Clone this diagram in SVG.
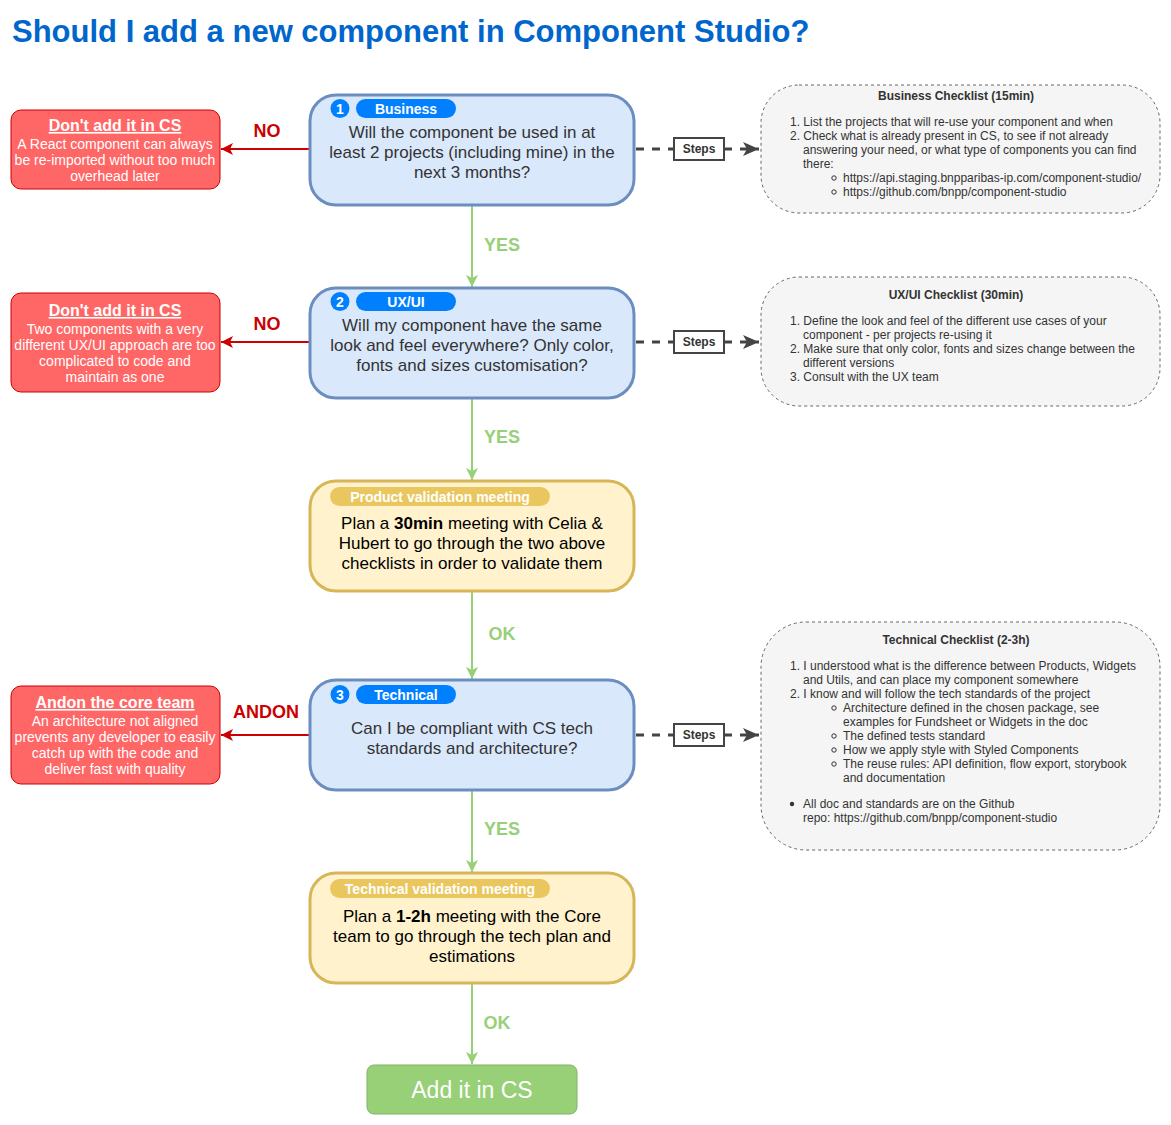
<svg xmlns="http://www.w3.org/2000/svg" width="1171" height="1125" viewBox="0 0 1171 1125">
<defs>
<style>
text{font-family:"Liberation Sans",Arial,sans-serif}
.q{fill:#DAE8FC;stroke:#6C8EBF;stroke-width:3}
.m{fill:#FFF2CC;stroke:#D6B656;stroke-width:3}
.r{fill:#FF6666;stroke:#CC0000;stroke-width:1}
.c{fill:#F5F5F5;stroke:#666;stroke-width:1;stroke-dasharray:3 3}
.qt{font-size:17px;fill:#333;text-anchor:middle}
.mt{font-size:17px;fill:#000;text-anchor:middle}
.rt{font-size:14px;fill:#fff;text-anchor:middle}
.rh{font-size:16px;font-weight:bold;fill:#fff;text-anchor:middle;text-decoration:underline}
.badge{fill:#007FFF}
.bt{font-size:14px;font-weight:bold;fill:#fff;text-anchor:middle}
.pill{fill:#EAC75E}
.ct{font-size:12px;fill:#333}
.ch{font-size:12px;font-weight:bold;fill:#333;text-anchor:middle}
.lbl-no{font-size:18px;font-weight:bold;fill:#CC0000;text-anchor:middle}
.lbl-yes{font-size:18px;font-weight:bold;fill:#97D077;text-anchor:middle}
.g{stroke:#97D077;stroke-width:2;fill:none}
.red{stroke:#CC0000;stroke-width:2;fill:none}
.dash{stroke:#444;stroke-width:3;fill:none;stroke-dasharray:8 8}
.steps{fill:#fff;stroke:#444;stroke-width:2}
.st{font-size:12px;font-weight:bold;fill:#333;text-anchor:middle}
</style>
<marker id="ag" markerUnits="userSpaceOnUse" markerWidth="14" markerHeight="14" viewBox="0 0 14 14" refX="13" refY="7" orient="auto"><path d="M1,1 L13,7 L1,13 L4,7 Z" fill="#97D077"/></marker>
<marker id="ar" markerUnits="userSpaceOnUse" markerWidth="14" markerHeight="14" viewBox="0 0 14 14" refX="13" refY="7" orient="auto"><path d="M1,1 L13,7 L1,13 L4,7 Z" fill="#CC0000"/></marker>
<marker id="ak" markerUnits="userSpaceOnUse" markerWidth="18" markerHeight="16" viewBox="0 0 18 16" refX="17" refY="8" orient="auto"><path d="M1,1 L17,8 L1,15 L5,8 Z" fill="#444"/></marker>
</defs>
<rect width="1171" height="1125" fill="#fff"/>
<text x="12" y="42" font-size="31" font-weight="bold" fill="#0066CC">Should I add a new component in Component Studio?</text>

<g id="connectors">
<line class="g" x1="472" y1="206" x2="472" y2="287" marker-end="url(#ag)"/>
<text class="lbl-yes" x="502" y="251">YES</text>
<line class="g" x1="472" y1="398" x2="472" y2="480" marker-end="url(#ag)"/>
<text class="lbl-yes" x="502" y="443">YES</text>
<line class="g" x1="472" y1="591" x2="472" y2="679" marker-end="url(#ag)"/>
<text class="lbl-yes" x="502" y="640">OK</text>
<line class="g" x1="472" y1="790" x2="472" y2="872" marker-end="url(#ag)"/>
<text class="lbl-yes" x="502" y="835">YES</text>
<line class="g" x1="472" y1="983" x2="472" y2="1064" marker-end="url(#ag)"/>
<text class="lbl-yes" x="497" y="1029">OK</text>
<line class="red" x1="309" y1="149" x2="221" y2="149" marker-end="url(#ar)"/>
<text class="lbl-no" x="267" y="137">NO</text>
<line class="red" x1="309" y1="342" x2="221" y2="342" marker-end="url(#ar)"/>
<text class="lbl-no" x="267" y="330">NO</text>
<line class="red" x1="309" y1="735" x2="221" y2="735" marker-end="url(#ar)"/>
<text class="lbl-no" x="266" y="718">ANDON</text>
<line class="dash" x1="636" y1="149" x2="674" y2="149"/>
<line class="dash" x1="724" y1="149" x2="759" y2="149" stroke-dasharray="12 6" marker-end="url(#ak)"/>
<line class="dash" x1="636" y1="342" x2="674" y2="342"/>
<line class="dash" x1="724" y1="342" x2="759" y2="342" stroke-dasharray="12 6" marker-end="url(#ak)"/>
<line class="dash" x1="636" y1="735" x2="674" y2="735"/>
<line class="dash" x1="724" y1="735" x2="759" y2="735" stroke-dasharray="12 6" marker-end="url(#ak)"/>
<rect class="steps" x="674" y="138" width="50" height="22"/>
<text class="st" x="699" y="153">Steps</text>
<rect class="steps" x="674" y="331" width="50" height="22"/>
<text class="st" x="699" y="346">Steps</text>
<rect class="steps" x="674" y="724" width="50" height="22"/>
<text class="st" x="699" y="739">Steps</text>
</g>

<g id="q1">
<rect class="q" x="310" y="95" width="324" height="110" rx="26"/>
<circle class="badge" cx="340" cy="108.5" r="9.5"/>
<text class="bt" x="340" y="113.5">1</text>
<rect class="badge" x="356" y="99" width="100" height="19" rx="9.5"/>
<text class="bt" x="406" y="113.5">Business</text>
<text class="qt" x="472" y="138">Will the component be used in at</text>
<text class="qt" x="472" y="158">least 2 projects (including mine) in the</text>
<text class="qt" x="472" y="178">next 3 months?</text>
</g>

<g id="q2">
<rect class="q" x="310" y="288" width="324" height="110" rx="26"/>
<circle class="badge" cx="340" cy="301.5" r="9.5"/>
<text class="bt" x="340" y="306.5">2</text>
<rect class="badge" x="356" y="292" width="100" height="19" rx="9.5"/>
<text class="bt" x="406" y="306.5">UX/UI</text>
<text class="qt" x="472" y="331">Will my component have the same</text>
<text class="qt" x="472" y="351">look and feel everywhere? Only color,</text>
<text class="qt" x="472" y="371">fonts and sizes customisation?</text>
</g>

<g id="m1">
<rect class="m" x="310" y="481" width="324" height="110" rx="26"/>
<rect class="pill" x="330" y="487" width="220" height="19" rx="9.5"/>
<text class="bt" x="440" y="501.5">Product validation meeting</text>
<text class="mt" x="472" y="529">Plan a <tspan font-weight="bold">30min</tspan> meeting with Celia &amp;</text>
<text class="mt" x="472" y="549">Hubert to go through the two above</text>
<text class="mt" x="472" y="569">checklists in order to validate them</text>
</g>

<g id="q3">
<rect class="q" x="310" y="680" width="324" height="110" rx="26"/>
<circle class="badge" cx="340" cy="694.5" r="9.5"/>
<text class="bt" x="340" y="699.5">3</text>
<rect class="badge" x="356" y="685" width="100" height="19" rx="9.5"/>
<text class="bt" x="406" y="699.5">Technical</text>
<text class="qt" x="472" y="734">Can I be compliant with CS tech</text>
<text class="qt" x="472" y="754">standards and architecture?</text>
</g>

<g id="m2">
<rect class="m" x="310" y="873" width="324" height="110" rx="26"/>
<rect class="pill" x="330" y="879" width="220" height="19" rx="9.5"/>
<text class="bt" x="440" y="893.5">Technical validation meeting</text>
<text class="mt" x="472" y="922">Plan a <tspan font-weight="bold">1-2h</tspan> meeting with the Core</text>
<text class="mt" x="472" y="942">team to go through the tech plan and</text>
<text class="mt" x="472" y="962">estimations</text>
</g>

<g id="done">
<rect x="367" y="1065" width="210" height="49" rx="7" fill="#97D077" stroke="#82B366" stroke-width="1"/>
<text x="472" y="1098" font-size="23" fill="#fff" text-anchor="middle">Add it in CS</text>
</g>

<g id="r1">
<rect class="r" x="11" y="110" width="209" height="79" rx="10"/>
<text class="rh" x="115" y="131">Don't add it in CS</text>
<text class="rt" x="115" y="149">A React component can always</text>
<text class="rt" x="115" y="165">be re-imported without too much</text>
<text class="rt" x="115" y="181">overhead later</text>
</g>

<g id="r2">
<rect class="r" x="11" y="293" width="209" height="99" rx="10"/>
<text class="rh" x="115" y="316">Don't add it in CS</text>
<text class="rt" x="115" y="334">Two components with a very</text>
<text class="rt" x="115" y="350">different UX/UI approach are too</text>
<text class="rt" x="115" y="366">complicated to code and</text>
<text class="rt" x="115" y="382">maintain as one</text>
</g>

<g id="r3">
<rect class="r" x="11" y="686" width="209" height="98" rx="10"/>
<text class="rh" x="115" y="708">Andon the core team</text>
<text class="rt" x="115" y="726">An architecture not aligned</text>
<text class="rt" x="115" y="742">prevents any developer to easily</text>
<text class="rt" x="115" y="758">catch up with the code and</text>
<text class="rt" x="115" y="774">deliver fast with quality</text>
</g>

<g id="c1">
<rect class="c" x="761" y="85" width="399" height="128" rx="38"/>
<text class="ch" x="956" y="100">Business Checklist (15min)</text>
<text class="ct" x="790" y="126">1. List the projects that will re-use your component and when</text>
<text class="ct" x="790" y="140">2. Check what is already present in CS, to see if not already</text>
<text class="ct" x="803" y="154">answering your need, or what type of components you can find</text>
<text class="ct" x="803" y="168">there:</text>
<circle cx="834" cy="178" r="2.2" fill="none" stroke="#333"/>
<text class="ct" x="843" y="182">https://api.staging.bnpparibas-ip.com/component-studio/</text>
<circle cx="834" cy="192" r="2.2" fill="none" stroke="#333"/>
<text class="ct" x="843" y="196">https://github.com/bnpp/component-studio</text>
</g>

<g id="c2">
<rect class="c" x="761" y="277" width="399" height="129" rx="38"/>
<text class="ch" x="956" y="299">UX/UI Checklist (30min)</text>
<text class="ct" x="790" y="325">1. Define the look and feel of the different use cases of your</text>
<text class="ct" x="803" y="339">component - per projects re-using it</text>
<text class="ct" x="790" y="353">2. Make sure that only color, fonts and sizes change between the</text>
<text class="ct" x="803" y="367">different versions</text>
<text class="ct" x="790" y="381">3. Consult with the UX team</text>
</g>

<g id="c3">
<rect class="c" x="761" y="622" width="399" height="228" rx="45"/>
<text class="ch" x="956" y="644">Technical Checklist (2-3h)</text>
<text class="ct" x="790" y="670">1. I understood what is the difference between Products, Widgets</text>
<text class="ct" x="803" y="684">and Utils, and can place my component somewhere</text>
<text class="ct" x="790" y="698">2. I know and will follow the tech standards of the project</text>
<circle cx="834" cy="708" r="2.2" fill="none" stroke="#333"/>
<text class="ct" x="843" y="712">Architecture defined in the chosen package, see</text>
<text class="ct" x="843" y="726">examples for Fundsheet or Widgets in the doc</text>
<circle cx="834" cy="736" r="2.2" fill="none" stroke="#333"/>
<text class="ct" x="843" y="740">The defined tests standard</text>
<circle cx="834" cy="750" r="2.2" fill="none" stroke="#333"/>
<text class="ct" x="843" y="754">How we apply style with Styled Components</text>
<circle cx="834" cy="764" r="2.2" fill="none" stroke="#333"/>
<text class="ct" x="843" y="768">The reuse rules: API definition, flow export, storybook</text>
<text class="ct" x="843" y="782">and documentation</text>
<circle cx="792" cy="804" r="2.2" fill="#333"/>
<text class="ct" x="803" y="808">All doc and standards are on the Github</text>
<text class="ct" x="803" y="822">repo: https://github.com/bnpp/component-studio</text>
</g>
</svg>
